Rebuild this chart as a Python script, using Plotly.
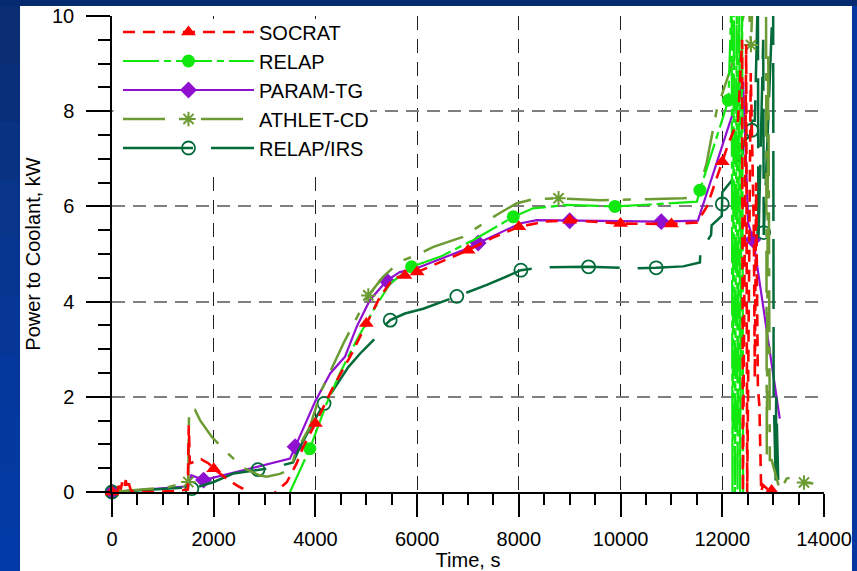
import plotly.graph_objects as go

# ---------------- data ----------------
# SOCRAT
socrat_t = [0, 110, 140, 170, 200, 240, 270, 300, 330, 370, 420, 800, 1200, 1490, 1510, 1530, 1600,
            1750, 1900, 2000, 2250, 2500, 2650, 2950, 3220, 3440, 3630, 3760, 4000, 4350, 4680, 5000,
            5270, 5530, 5760, 6000, 6500, 7000, 7500, 8000, 8500, 9000, 10000, 11000, 11500, 11700,
            12000, 12120, 12310, 12390, 12405, 12470, 12490, 12560, 12620, 12640, 12665, 12700, 12730,
            12750, 12765, 12800, 12850, 12900, 12970, 13070]
socrat_p = [0, 0, 0.22, 0.05, 0.2, 0.08, 0.25, 0.06, 0.18, 0.04, 0, 0, 0.02, 0.05, 1.4, 0.6, 0.63,
            0.69, 0.6, 0.49, 0.28, 0.11, 0.03, -0.2, 0, 0.21, 0.6, 0.95, 1.44, 2.21, 2.84, 3.54,
            4.10, 4.49, 4.55, 4.62, 4.85, 5.08, 5.35, 5.57, 5.68, 5.71, 5.64, 5.63, 5.66, 6.0,
            6.94, 7.32, 7.81, 9.5, 0.0, 9.4, 0.0, 8.8, 5.5, 2.4, 6.5, 2.2, 1.8,
            1.0, 0.0, 0.15, 0.1, 0.05, 0.03, 0.0]
socrat_mk_t = [0, 2000, 4000, 5000, 5760, 6000, 7000, 8000, 9000, 10000, 11000, 12000, 12970]
socrat_mk_p = [0, 0.49, 1.44, 3.54, 4.55, 4.62, 5.08, 5.57, 5.71, 5.64, 5.63, 6.94, 0.03]

# RELAP
relap_t = [3500, 3890, 4220, 4480, 4810, 5140, 5470, 5890, 6450, 7100, 7890, 8280, 8940, 9890,
           10580, 11500, 11560, 12120, 12185, 12200, 12230, 12250, 12285, 12300, 12335, 12350,
           12390, 12410]
relap_p = [0, 0.91, 1.86, 2.49, 3.19, 3.82, 4.38, 4.73, 4.94, 5.29, 5.78, 5.96, 6.03, 6.0,
           6.04, 6.10, 6.34, 8.23, 10.5, 0.0, 10.5, 0.0, 10.5, 0.0, 10.5, 0.0,
           10.5, 0.0]
relap_mk_t = [3890, 5890, 7890, 9890, 11560, 12120]
relap_mk_p = [0.91, 4.73, 5.78, 6.0, 6.34, 8.23]

# PARAM-TG
param_t = [0, 1500, 1560, 1800, 3500, 3600, 3990, 4290, 4580, 4810, 5070, 5400, 5660, 5990, 6900,
           7200, 8020, 8350, 9000, 10800, 11520, 12410, 12510, 12610, 13130]
param_p = [0, 0.12, 0.35, 0.25, 0.70, 0.95, 1.89, 2.49, 2.84, 3.47, 4.03, 4.44, 4.62, 4.70, 5.08,
           5.23, 5.64, 5.71, 5.70, 5.68, 5.70, 8.62, 5.64, 5.30, 1.54]
param_mk_t = [0, 1800, 3600, 5400, 7200, 9000, 10800, 12600]
param_mk_p = [0, 0.25, 0.95, 4.44, 5.23, 5.70, 5.68, 5.30]

# ATHLET-CD
athlet_t = [0, 300, 700, 1100, 1500, 1515, 1560, 1630, 1730, 1960, 2250, 2580, 2900, 3040, 3300,
            3470, 3530, 3600, 3890, 4120, 4550, 5040, 5330, 5660, 5990, 6320, 6900, 7560, 7950,
            8280, 8780, 9140, 9600, 10510, 11230, 11500, 11560, 11690, 11890, 12220, 12480, 12520,
            12564, 12600, 12860, 12875, 12905, 12935, 12970, 13134, 13266, 13397, 13606, 13790]
athlet_p = [0, 0.03, 0.06, 0.1, 0.21, 1.75, 1.75, 1.73, 1.51, 1.16, 0.84, 0.51, 0.35, 0.32, 0.38,
            0.46, 0.53, 0.8, 1.37, 2.14, 3.12, 4.13, 4.52, 4.84, 4.98, 5.15, 5.36, 5.82, 6.06,
            6.15, 6.17, 6.15, 6.13, 6.15, 6.17, 6.2, 6.41, 6.90, 8.02, 9.07, 10.3, 10.3,
            9.39, 10.5, 10.5, 0.7, 9.3, 0.67, 0.67, 0.03, 0.28, 0.32, 0.2, 0.18]
athlet_mk_t = [1500, 5040, 8780, 12564, 13606]
athlet_mk_p = [0.21, 4.13, 6.17, 9.39, 0.2]

# RELAP/IRS
irs_t = [0, 800, 1530, 1570, 2000, 2390, 2870, 3170, 3560, 3700, 3890, 4170, 4350, 4650, 4880,
         5140, 5340, 5470, 5760, 6120, 6580, 6780, 7170, 7370, 7830, 8040, 8480, 9370, 10250,
         10700, 11230, 11530, 11560, 11570, 11780, 11790, 11990, 12000, 12190, 12200, 12400,
         12410, 12570, 12580, 12640, 12700, 12710, 12805, 12815, 13000, 13010, 13050, 13060, 13100]
irs_p = [0, 0.05, 0.1, 0.07, 0.21, 0.39, 0.47, 0.51, 0.62, 0.95, 1.33, 1.86, 2.14, 2.63, 2.91,
         3.19, 3.47, 3.61, 3.75, 3.85, 4.03, 4.11, 4.28, 4.35, 4.56, 4.66, 4.72, 4.73, 4.70,
         4.71, 4.74, 4.80, 4.82, 5.05, 5.40, 5.60, 5.80, 6.30, 6.55, 6.76, 7.10,
         7.36, 7.50, 7.80, 7.80, 10.5, 5.2, 9.5, 5.4, 10.5, 2.1, 0.24, 2.0, 0.25]
irs_mk_t = [0, 1570, 2870, 4170, 5470, 6780, 8040, 9370, 10700, 12000, 12580, 12813]
irs_mk_p = [0, 0.07, 0.47, 1.86, 3.61, 4.11, 4.66, 4.73, 4.71, 6.05, 7.60, 5.45]

x_ticks = [0, 2000, 4000, 6000, 8000, 10000, 12000, 14000]
y_ticks = [0, 2, 4, 6, 8, 10]

# ---------------- styles ----------------
FONT = "Liberation Sans, Arial, sans-serif"
FS = 20
RED, LIME, PURPLE, OLIVE, DKGREEN = "#ff0000", "#10e810", "#9010d0", "#6b9b32", "#036b3a"

series = [
    # name, t, p, mk_t, mk_p, color, dash, width, marker dict
    ("SOCRAT", socrat_t, socrat_p, socrat_mk_t, socrat_mk_p, RED, "12px,8px", 2.6,
     dict(symbol="triangle-up", size=13, color=RED)),
    ("RELAP", relap_t, relap_p, relap_mk_t, relap_mk_p, LIME, "36px,5px,7px,5px", 2.2,
     dict(symbol="circle", size=13, color=LIME)),
    ("PARAM-TG", param_t, param_p, param_mk_t, param_mk_p, PURPLE, "solid", 2.2,
     dict(symbol="diamond", size=13, color=PURPLE)),
    ("ATHLET-CD", athlet_t, athlet_p, athlet_mk_t, athlet_mk_p, OLIVE, "42px,14px,8px,14px", 2.5,
     dict(symbol="asterisk-open", size=12, color=OLIVE, line=dict(color=OLIVE, width=2))),
    ("RELAP/IRS", irs_t, irs_p, irs_mk_t, irs_mk_p, DKGREEN, "70px,18px", 2.5,
     dict(symbol="circle-open", size=13, color=DKGREEN, line=dict(color=DKGREEN, width=1.8))),
]

fig = go.Figure()

# legend entries (line + marker sample) in listing order
for name, t, p, mt, mp, color, dash, width, mk in series:
    fig.add_trace(go.Scatter(x=[None], y=[None], mode="lines+markers", name=name,
                             line=dict(color=color, dash=dash, width=width), marker=mk,
                             legendgroup=name, showlegend=True))

# curves and their markers; SOCRAT drawn last so it sits on top
draw_order = ["PARAM-TG", "RELAP/IRS", "ATHLET-CD", "RELAP", "SOCRAT"]
lookup = {s[0]: s for s in series}
for key in draw_order:
    name, t, p, mt, mp, color, dash, width, mk = lookup[key]
    fig.add_trace(go.Scatter(x=t, y=p, mode="lines", name=name, legendgroup=name,
                             showlegend=False, hoverinfo="skip",
                             line=dict(color=color, dash=dash, width=width)))
    fig.add_trace(go.Scatter(x=mt, y=mp, mode="markers", name=name, legendgroup=name,
                             showlegend=False, marker=mk, cliponaxis=False))

# page background: blue frame around a white slide area
shapes = []
shapes.append(dict(type="rect", xref="paper", yref="paper", x0=-0.1292, x1=1.0393,
                   y0=-0.2, y1=1.021, fillcolor="white", line=dict(width=0), layer="below"))
shapes.append(dict(type="rect", xref="paper", yref="paper", x0=-0.2, x1=1.1,
                   y0=1.021, y1=1.04, fillcolor="#062a70", line=dict(width=0), layer="below"))
band_cols = ["#0a2c72", "#0a2f7a", "#093282", "#08348a", "#073690", "#063796",
             "#05389c", "#0439a0", "#033aa4", "#023aa7"]
n = len(band_cols)
for i, c in enumerate(band_cols):
    y1 = 1.021 - i * (1.021 + 0.2) / n
    y0 = 1.021 - (i + 1) * (1.021 + 0.2) / n
    shapes.append(dict(type="rect", xref="paper", yref="paper", x0=-0.2, x1=-0.1292,
                       y0=y0, y1=y1, fillcolor=c, line=dict(width=0), layer="below"))
# white box behind the legend, hiding the grid there but keeping the top grid line
shapes.append(dict(type="rect", xref="paper", yref="paper", x0=0.0021, x1=0.3624,
                   y0=0.68, y1=0.9937, fillcolor="white", line=dict(width=0), layer="above"))

fig.update_layout(
    width=857, height=571,
    margin=dict(l=112, r=33, t=16, b=79),
    paper_bgcolor="#0636a0",
    plot_bgcolor="white",
    font=dict(family=FONT, size=FS, color="black"),
    shapes=shapes,
    showlegend=True,
    legend=dict(x=0.0084, y=1.0074, xanchor="left", yanchor="top",
                bgcolor="rgba(255,255,255,0)",
                borderwidth=0, itemwidth=131, tracegroupgap=0,
                font=dict(family=FONT, size=FS, color="black")),
    xaxis=dict(range=[0, 14000], tickvals=x_ticks, ticktext=[str(v) for v in x_ticks],
               automargin=False,
               showline=True, linecolor="black", linewidth=1.5,
               ticks="outside", ticklen=23, tickwidth=1.5, tickcolor="black",
               ticklabelstandoff=5,
               showgrid=True, gridcolor="#202020", gridwidth=1.2, griddash="14px,9px",
               zeroline=False,
               minor=dict(dtick=500, tick0=0, ticks="outside", ticklen=11, tickwidth=1.5,
                          tickcolor="black", showgrid=False),
               title=dict(text="Time, s", standoff=3, font=dict(size=FS))),
    yaxis=dict(range=[0, 10], tickvals=y_ticks, ticktext=[str(v) for v in y_ticks],
               automargin=False,
               showline=True, linecolor="black", linewidth=1.5,
               ticks="outside", ticklen=24, tickwidth=1.5, tickcolor="black",
               ticklabelstandoff=8,
               showgrid=True, gridcolor="#7f7f7f", gridwidth=2, griddash="13px,8px",
               zeroline=False,
               minor=dict(dtick=0.5, tick0=0, ticks="outside", ticklen=12, tickwidth=1.5,
                          tickcolor="black", showgrid=False),
               title=dict(text="Power to Coolant, kW", standoff=6, font=dict(size=FS))),
)

fig.write_html("out.html")
